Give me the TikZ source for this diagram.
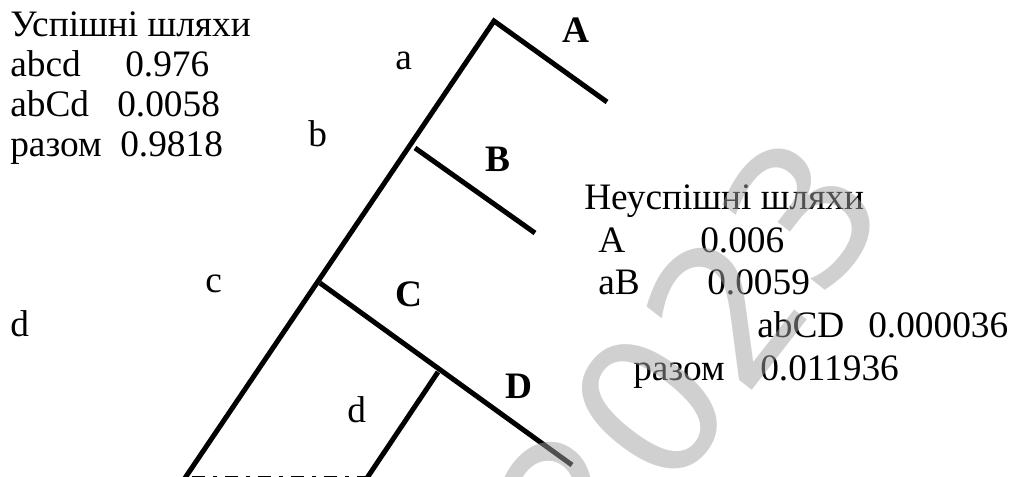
\documentclass[tikz,border=0pt]{standalone}
\usepackage{fontspec}
\setmainfont{Liberation Serif}
\newfontfamily\wmfont{DejaVu Sans}
\begin{document}
\begin{tikzpicture}[x=0.75pt,y=-0.75pt,
  txt/.style={inner sep=0pt,anchor=base west,font=\fontsize{28}{33}\selectfont},
  blbl/.style={txt,font=\fontsize{28}{33}\selectfont\bfseries},
  branch/.style={line width=3.75pt,line cap=butt},
  cutline/.style={line width=3.75pt,dash pattern=on 9.75pt off 6pt on 3pt off 6pt},
  watermark/.style={inner sep=0pt,text=black!37,opacity=0.5,font=\wmfont\fontsize{145}{145}\selectfont}]
\useasboundingbox (0,0) rectangle (1014,477);
% tree
\coordinate (base) at (185,478);
\coordinate (apex) at (494,21);
\coordinate (Aend) at (607,102);
\coordinate (Bstart) at (415,148);
\coordinate (Bend) at (535,233);
\coordinate (Cstart) at (320,283);
\coordinate (Dend) at (572,465);
\coordinate (Dtop) at (438,372);
\coordinate (Dbot) at (367,478);
\coordinate (cutL) at (192,478);
\coordinate (cutR) at (365,478);
\draw[branch] (base) -- (apex) -- (Aend);
\draw[branch] (Bstart) -- (Bend);
\draw[branch] (Cstart) -- (Dend);
\draw[branch] (Dtop) -- (Dbot);
\draw[cutline] (cutL) -- (cutR);
% branch labels
\node[txt] (la) at (395,70) {a};
\node[blbl] (lA) at (562,43) {A};
\node[txt] (lb) at (308,147) {b};
\node[blbl] (lB) at (485,172) {B};
\node[txt] (lc) at (205,293) {c};
\node[blbl] (lC) at (395,307) {C};
\node[txt] (ld1) at (10,337) {d};
\node[txt] (ld2) at (347,422) {d};
\node[blbl] (lD) at (505,398) {D};
% successful paths
\node[txt] (s0) at (10,37) {Успішні шляхи};
\node[txt] (s1) at (10,77) {abcd};
\node[txt] (s1v) at (125,77) {0.976};
\node[txt] (s2) at (10,117) {abCd};
\node[txt] (s2v) at (117,117) {0.0058};
\node[txt] (s3) at (10,157) {разом};
\node[txt] (s3v) at (120,157) {0.9818};
% failed paths
\node[txt] (f0) at (584,210) {Неуспішні шляхи};
\node[txt] (f1) at (598,253) {A};
\node[txt] (f1v) at (700,253) {0.006};
\node[txt] (f2) at (598,295) {aB};
\node[txt] (f2v) at (707,295) {0.0059};
\node[txt] (f3) at (757,338) {abCD};
\node[txt] (f3v) at (868,338) {0.000036};
\node[txt] (f4) at (633,380) {разом};
\node[txt] (f4v) at (760,380) {0.011936};
% watermark
\node[watermark,rotate=52] (wm) at (688,358) {2023};
\end{tikzpicture}
\end{document}
